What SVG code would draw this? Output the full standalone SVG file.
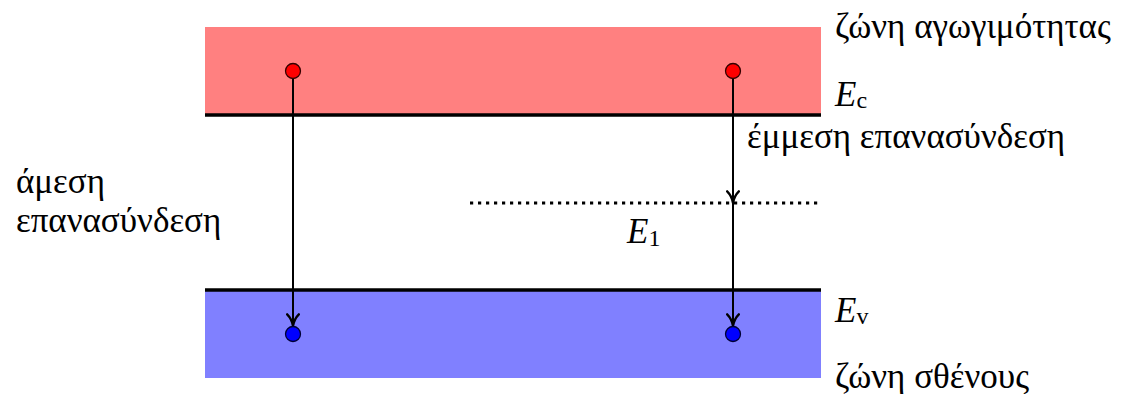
<svg xmlns="http://www.w3.org/2000/svg" width="1130" height="394" viewBox="0 0 1130 394">
<style>
.t{font-family:"Liberation Serif","DejaVu Serif",serif;font-size:35px;fill:#000}
.i{font-style:italic}
.s{font-size:24px}
.edge{stroke:#000;stroke-width:2;fill:none}
.lvl{stroke:#000;stroke-width:3.5}
.el{fill:#ff0000;stroke:#300;stroke-width:1.3}
.ho{fill:#0000ff;stroke:#003;stroke-width:1.3}
</style>
<defs>
<marker id="ah" viewBox="0 0 12 12" refX="11" refY="6" markerWidth="14" markerHeight="14" markerUnits="userSpaceOnUse" orient="auto">
<path d="M1,1 Q5,5 11,6 Q5,7 1,11" fill="none" stroke="#000" stroke-width="2" stroke-linecap="round" stroke-linejoin="round"/>
</marker>
</defs>
<g id="conduction-band">
<rect x="205" y="27" width="616" height="88" fill="#ff8080"/>
<line class="lvl" x1="205" y1="115" x2="821" y2="115"/>
</g>
<g id="valence-band">
<rect x="205" y="290" width="616" height="88" fill="#8080ff"/>
<line class="lvl" x1="205" y1="290" x2="821" y2="290"/>
</g>
<g id="trap-level">
<line x1="470" y1="203" x2="821" y2="203" stroke="#000" stroke-width="3.2" stroke-dasharray="3.2 4.8"/>
</g>
<g id="connectors">
<line class="edge" x1="293" y1="71" x2="293" y2="326" marker-end="url(#ah)"/>
<line class="edge" x1="733" y1="71" x2="733" y2="203" marker-end="url(#ah)"/>
<line class="edge" x1="733" y1="203" x2="733" y2="326" marker-end="url(#ah)"/>
</g>
<g id="electron-1"><circle class="el" cx="293" cy="71" r="7.5"/></g>
<g id="electron-2"><circle class="el" cx="733" cy="71" r="7.5"/></g>
<g id="hole-1"><circle class="ho" cx="293" cy="334" r="7.5"/></g>
<g id="hole-2"><circle class="ho" cx="733" cy="334" r="7.5"/></g>
<g id="labels">
<text class="t" x="835" y="38">ζώνη αγωγιμότητας</text>
<text class="t" x="835" y="106"><tspan class="i">E</tspan><tspan class="s" dy="2">c</tspan></text>
<text class="t" x="747" y="148">έμμεση επανασύνδεση</text>
<text class="t" x="16" y="193">άμεση</text>
<text class="t" x="16" y="232">επανασύνδεση</text>
<text class="t" x="627" y="243"><tspan class="i">E</tspan><tspan class="s" dy="3">1</tspan></text>
<text class="t" x="835" y="322"><tspan class="i">E</tspan><tspan class="s" dy="2">v</tspan></text>
<text class="t" x="835" y="388">ζώνη σθένους</text>
</g>
</svg>
